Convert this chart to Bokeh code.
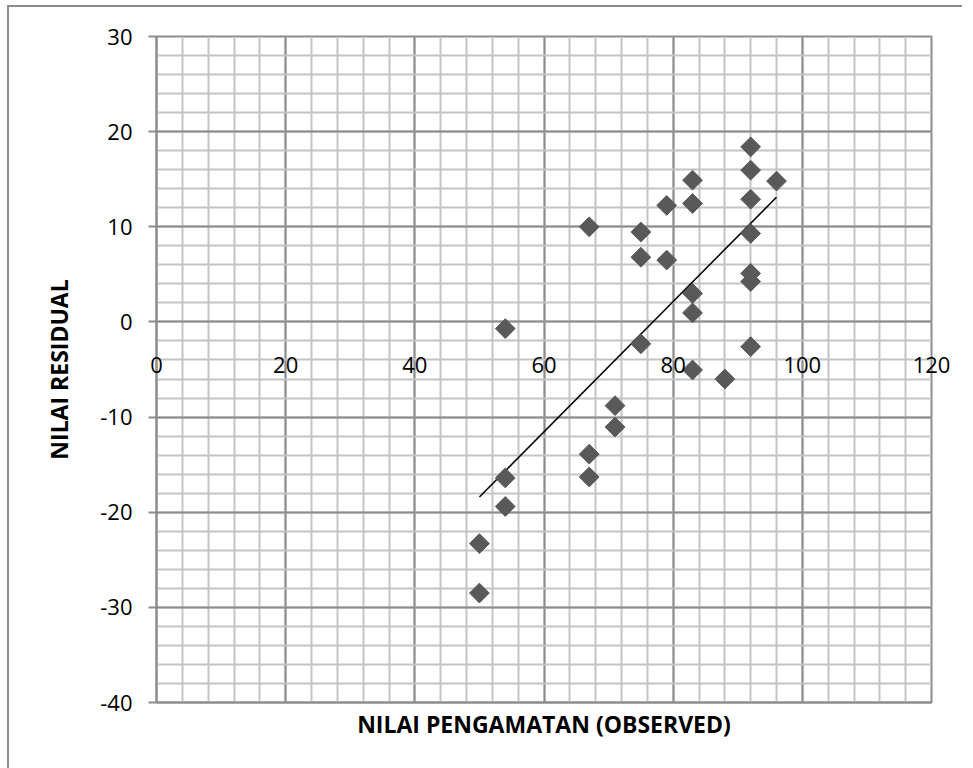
import numpy as np
from bokeh.plotting import figure
from bokeh.models import FixedTicker, Range1d, Label
from bokeh.embed import file_html
from bokeh.resources import INLINE

# ---- data ----
observed = [50, 50, 54, 54, 54, 67, 67, 67, 71, 71, 75, 75, 75, 79, 79,
            83, 83, 83, 83, 83, 88, 92, 92, 92, 92, 92, 92, 92, 96]
residual = [-23.3, -28.5, -0.7, -16.4, -19.4, 10.0, -13.9, -16.3, -8.8, -11.05,
            9.45, 6.8, -2.3, 12.25, 6.5, 14.9, 12.45, 3.0, 0.95, -5.05,
            -6.0, 18.4, 15.95, 12.9, 9.3, 5.1, 4.25, -2.6, 14.8]
trend_x = [50, 96]
trend_y = [-18.4, 13.1]

x_ticks = [0, 20, 40, 60, 80, 100, 120]
x_tick_labels = ["0", "20", "40", "60", "80", "100", "120"]
x_minor = list(range(0, 121, 4))
y_ticks = [-40, -30, -20, -10, 0, 10, 20, 30]
y_tick_labels = ["-40", "-30", "-20", "-10", "0", "10", "20", "30"]
y_minor = list(range(-40, 31, 2))

x_title = "NILAI PENGAMATAN (OBSERVED)"
y_title = "NILAI RESIDUAL"

FONT = "Open Sans"
MAJOR = "#8c8c8c"
MINOR = "#c4c4c4"

p = figure(frame_width=775, frame_height=666,
           min_border_left=147, min_border_right=31,
           min_border_top=29, min_border_bottom=58,
           x_range=Range1d(0, 120), y_range=Range1d(-40, 30),
           output_backend="svg", toolbar_location=None)
p.styles = {"margin-left": "7px", "margin-top": "5px",
            "border-left": "2px solid #8c8c8c", "border-top": "2px solid #8c8c8c"}
p.background_fill_color = "white"
p.border_fill_color = "white"
p.outline_line_color = MAJOR
p.outline_line_width = 2

# grids
p.xgrid.ticker = FixedTicker(ticks=x_ticks, minor_ticks=x_minor)
p.ygrid.ticker = FixedTicker(ticks=y_ticks, minor_ticks=y_minor)
for g in (p.xgrid, p.ygrid):
    g.grid_line_color = MAJOR
    g.grid_line_width = 2
    g.minor_grid_line_color = MINOR
    g.minor_grid_line_width = 2

# bottom axis: only the title
xa = p.xaxis[0]
xa.ticker = FixedTicker(ticks=[])
xa.axis_line_color = MAJOR
xa.axis_line_width = 2
xa.major_tick_line_color = None
xa.minor_tick_line_color = None
xa.axis_label = x_title
xa.axis_label_text_font = FONT
xa.axis_label_text_font_style = "bold"
xa.axis_label_text_font_size = "23px"
xa.axis_label_text_color = "black"
xa.axis_label_standoff = 5

# left axis
ya = p.yaxis[0]
ya.ticker = FixedTicker(ticks=y_ticks)
ya.major_label_overrides = {t: s for t, s in zip(y_ticks, y_tick_labels)}
ya.axis_line_color = MAJOR
ya.axis_line_width = 2
ya.major_tick_line_color = MAJOR
ya.major_tick_line_width = 2
ya.major_tick_out = 8
ya.major_tick_in = 0
ya.minor_tick_line_color = None
ya.major_label_text_font = FONT
ya.major_label_text_font_size = "22px"
ya.major_label_text_color = "black"
ya.major_label_standoff = 16
ya.axis_label = y_title
ya.axis_label_text_font = FONT
ya.axis_label_text_font_style = "bold"
ya.axis_label_text_font_size = "23px"
ya.axis_label_text_color = "black"
ya.axis_label_standoff = 22

# x tick labels along the y = 0 crossing line (data coords; placed in a side
# panel so that the labels at the frame edges are not clipped)
for xt, lab in zip(x_ticks, x_tick_labels):
    p.add_layout(Label(x=xt, y=0, text=lab, x_units="data", y_units="data",
                       text_align="center", text_baseline="top", y_offset=-35,
                       text_font=FONT, text_font_size="22px", text_color="black"),
                 "below")

# data
p.line(trend_x, trend_y, line_color="black", line_width=1.5)
p.scatter(observed, residual, marker="square", angle=np.pi / 4, size=14,
          fill_color="#595959", line_color="#595959")

open("out.html", "w").write(file_html(p, INLINE))
